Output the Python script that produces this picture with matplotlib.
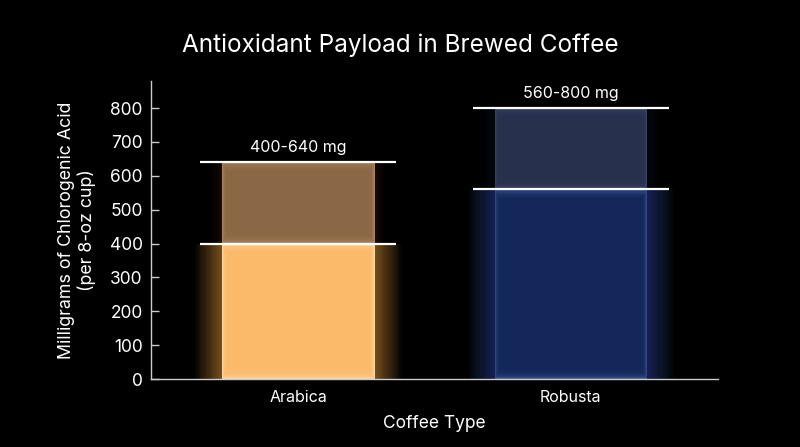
import matplotlib.pyplot as plt
import numpy as np

plt.rcParams['font.family'] = ['Inter', 'DejaVu Sans']

kahveler = ["Arabica", "Robusta"]
alt_deger = [400, 560]
ust_deger = [640, 800]
etiketler = ["400-640 mg", "560-800 mg"]

renk_alt = ["#fbba6a", "#13275a"]
renk_ust = ["#8a6846", "#27304c"]
renk_kenar = ["#fed5a2", "#3f5690"]
renk_kenar_ust = ["#a8845f", "#3d4868"]
renk_parilti = ["#f5a850", "#3a5ab0"]

fig = plt.figure(figsize=(8, 4.47), dpi=100, facecolor="black")
ax = fig.add_axes([0.189, 0.152, 0.7085, 0.667])
ax.set_facecolor("black")

x = np.arange(len(kahveler))
alt = np.array(alt_deger)
ust = np.array(ust_deger)
gen = 0.56

# dis parilti (glow)
for i in range(22):
    ax.bar(x, alt, width=gen + 0.009 * (i + 1), color=renk_parilti,
           alpha=0.028, linewidth=0, zorder=1)
for i in range(10):
    ax.bar(x, ust, width=gen + 0.008 * (i + 1), color=renk_parilti,
           alpha=0.012, linewidth=0, zorder=1)

# sutunlar: once acik kenar rengi, sonra ice dogru ana renk
ax.bar(x, alt, width=gen, color=renk_kenar, linewidth=0, zorder=2)
ax.bar(x, ust - alt, bottom=alt, width=gen, color=renk_kenar_ust,
       linewidth=0, zorder=2)
n = 12
for k in range(1, n + 1):
    dx = 0.0022 * k
    dy = 3.2 * k
    ax.bar(x, alt - 2 * dy, bottom=dy, width=gen - 2 * dx, color=renk_alt,
           alpha=0.3, linewidth=0, zorder=3)
    ax.bar(x, ust - alt - 2 * dy, bottom=alt + dy, width=gen - 2 * dx,
           color=renk_ust, alpha=0.3, linewidth=0, zorder=3)

# aralik cizgileri ve etiketler
cizgi_gen = 0.72
for xi, a, u, t in zip(x, alt_deger, ust_deger, etiketler):
    ax.hlines([a, u], xi - cizgi_gen / 2, xi + cizgi_gen / 2,
              colors="white", linewidth=1.6, zorder=4)
    ax.text(xi, u + 20, t, ha="center", va="bottom", color="white",
            fontsize=11.5, zorder=5)

ax.set_xlim(-0.54, 1.54)
ax.set_ylim(0, 880)
ax.set_xticks(x)
ax.set_xticklabels(kahveler)
ax.set_yticks(range(0, 801, 100))

for s in ["top", "right"]:
    ax.spines[s].set_visible(False)
for s in ["left", "bottom"]:
    ax.spines[s].set_color("#cccccc")
    ax.spines[s].set_linewidth(1)

ax.tick_params(axis="y", direction="in", colors="#cccccc", labelcolor="white",
               labelsize=12.5, length=6, width=1, pad=6)
ax.tick_params(axis="x", length=0, labelcolor="white", labelsize=11.5, pad=8)

ax.set_xlabel("Coffee Type", color="white", fontsize=12.5, labelpad=7)
ax.set_ylabel("Milligrams of Chlorogenic Acid\n(per 8-oz cup)", color="white",
              fontsize=12.8, labelpad=10)
fig.text(0.5, 0.899, "Antioxidant Payload in Brewed Coffee", ha="center",
         va="center", color="white", fontsize=17.5)

fig.savefig("out.png", dpi=100, facecolor="black")
